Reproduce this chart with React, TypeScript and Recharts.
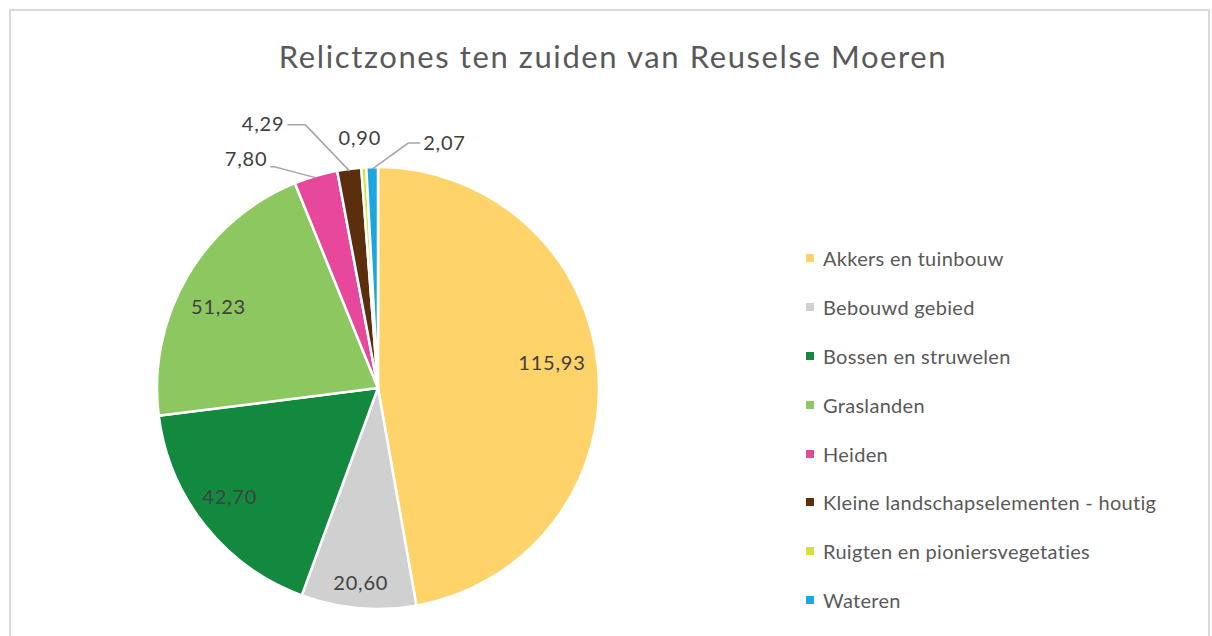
import { Legend, Pie, PieChart } from "recharts";

// Relictzones ten zuiden van Reuselse Moeren (oppervlakte per bodemgebruik)
const categories = [
  "Akkers en tuinbouw",
  "Bebouwd gebied",
  "Bossen en struwelen",
  "Graslanden",
  "Heiden",
  "Kleine landschapselementen - houtig",
  "Ruigten en pioniersvegetaties",
  "Wateren",
];
const areas = [115.93, 20.6, 42.7, 51.23, 7.8, 4.29, 0.9, 2.07];
const colors = ["#FED369", "#D0D0D0", "#13893F", "#8CC760", "#E8489B", "#5B2E0D", "#D6E23A", "#1AA7E0"];

// label placement per slice: inside (radius factor + nudge) or outside (offset from the rim point)
type LabelPos = { r?: number; dx?: number; dy?: number; line?: boolean; seg?: number; ly?: number };
const labelStyle: Record<string, LabelPos> = {
  "Akkers en tuinbouw": { r: 0.79, dx: 0, dy: -11 },
  "Bebouwd gebied": { r: 0.88, dx: 0, dy: 0 },
  "Bossen en struwelen": { r: 0.84, dx: -3, dy: -8 },
  Graslanden: { r: 0.81, dx: -5, dy: 8 },
  Heiden: { dx: -46, dy: -20, line: true, seg: 4, ly: 9 },
  "Kleine landschapselementen - houtig": { dx: -62, dy: -48, line: true, seg: 18, ly: 2 },
  "Ruigten en pioniersvegetaties": { dx: -4, dy: -32, line: false },
  Wateren: { dx: 48, dy: -27, line: true, seg: 12, ly: 1 },
};

const data = categories.map((name, i) => ({ name, value: areas[i], fill: colors[i] }));
const fmt = (v: number) => v.toFixed(2).replace(".", ",");
const RAD = Math.PI / 180;
const FONT = "Lato, 'Open Sans', sans-serif";

function renderLabel(p: any) {
  const { cx, cy, midAngle, outerRadius, name, value } = p;
  const s = labelStyle[name] ?? {};
  const cos = Math.cos(-midAngle * RAD);
  const sin = Math.sin(-midAngle * RAD);
  if (s.r !== undefined) {
    return (
      <text x={cx + outerRadius * s.r * cos + (s.dx ?? 0)} y={cy + outerRadius * s.r * sin + (s.dy ?? 0)}
        fill="#404040" fontSize={20} letterSpacing={0.8} fontFamily={FONT} textAnchor="middle" dominantBaseline="central">
        {fmt(value)}
      </text>
    );
  }
  const ex = cx + (outerRadius - 2) * cos;
  const ey = cy + (outerRadius - 2) * sin;
  const tx = ex + (s.dx ?? 0);
  const ty = ey + (s.dy ?? 0);
  const right = (s.dx ?? 0) > 0;
  const seg = s.seg ?? 6;
  const lx = right ? tx - seg : tx + seg;
  const ly = ty + (s.ly ?? 0);
  return (
    <g>
      {s.line && <polyline points={`${ex},${ey} ${lx},${ly} ${tx},${ly}`} fill="none" stroke="#a6a6a6" strokeWidth={1.5} />}
      <text x={s.line ? (right ? tx + 3 : tx - 3) : tx} y={ty} fill="#404040" fontSize={20} letterSpacing={0.8} fontFamily={FONT}
        textAnchor={s.line ? (right ? "start" : "end") : "middle"} dominantBaseline="central">
        {fmt(value)}
      </text>
    </g>
  );
}

function LegendList({ payload }: any) {
  return (
    <div style={{ fontFamily: FONT, fontSize: 20, letterSpacing: 0.3, color: "#595959" }}>
      {(payload ?? []).map((e: any) => (
        <div key={e.value} style={{ display: "flex", alignItems: "center", height: 48.8 }}>
          <span style={{ width: 8, height: 8, background: e.color, marginRight: 9, display: "inline-block" }} />
          <span>{e.value}</span>
        </div>
      ))}
    </div>
  );
}

export default function App() {
  return (
    <div style={{ position: "absolute", left: 0, top: 0, width: 1212, height: 636, background: "#fff", overflow: "hidden" }}>
      <div style={{ position: "absolute", left: 9, top: 9, width: 1201, height: 640, border: "2px solid #d9d9d9", boxSizing: "border-box" }} />
      <div style={{ position: "absolute", left: 7, top: 37, width: 1212, textAlign: "center", fontFamily: FONT, fontSize: 31, letterSpacing: 1.6, color: "#595959" }}>
        Relictzones ten zuiden van Reuselse Moeren
      </div>
      <div style={{ position: "absolute", left: 0, top: 0 }}>
        <PieChart width={1212} height={636}>
          <Pie data={data} dataKey="value" nameKey="name" cx={373} cy={383} outerRadius={221}
            startAngle={90} endAngle={-270} stroke="#ffffff" strokeWidth={2.5}
            label={renderLabel} labelLine={false} isAnimationActive={false} />
          <Legend layout="vertical" verticalAlign="top" align="right" content={<LegendList />}
            wrapperStyle={{ left: 806, right: "auto", top: 234, width: 400 }} />
        </PieChart>
      </div>
    </div>
  );
}
